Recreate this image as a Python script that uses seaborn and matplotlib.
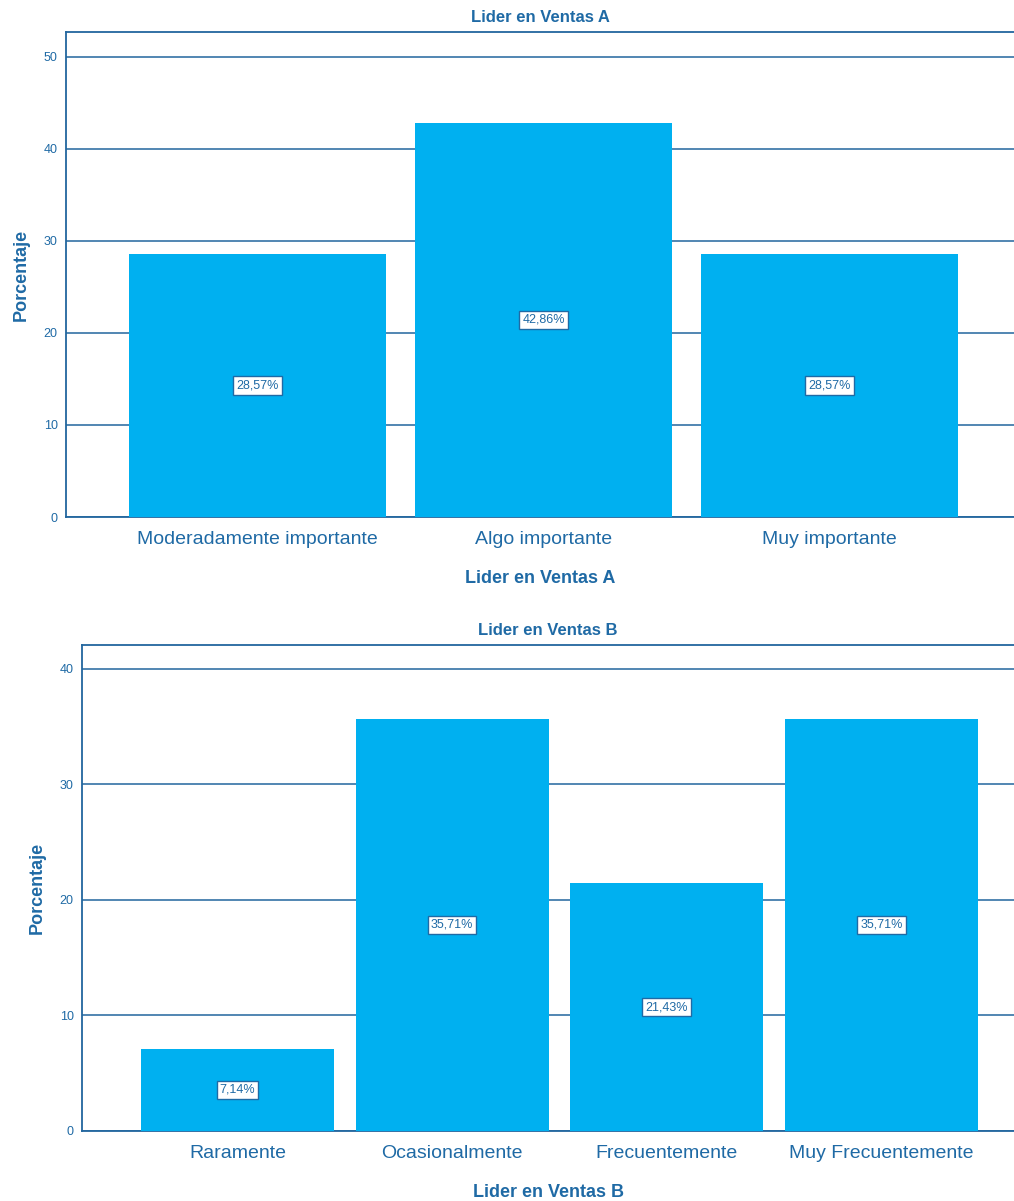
import matplotlib
matplotlib.use('Agg')
import matplotlib.pyplot as plt
import seaborn as sns
import pandas as pd

cats_a = ['Moderadamente importante', 'Algo importante', 'Muy importante']
pct_a = [28.57, 42.86, 28.57]

cats_b = ['Raramente', 'Ocasionalmente', 'Frecuentemente', 'Muy Frecuentemente']
pct_b = [7.14, 35.71, 21.43, 35.71]

bar_color = '#00B0F0'
text_color = '#1F6AA5'
line_color = '#22669E'

sns.set_theme(style='white')
plt.rcParams['font.family'] = ['Liberation Sans Narrow', 'Liberation Sans', 'DejaVu Sans']

fig = plt.figure(figsize=(10.14, 12.01), dpi=100)
ax1 = fig.add_axes([0.0651, 0.5695, 0.9349, 0.4039])
ax2 = fig.add_axes([0.0809, 0.0583, 0.9191, 0.4047])


def draw(ax, cats, vals, title, ymax, xlim):
    df = pd.DataFrame({'cat': cats, 'pct': vals})
    sns.barplot(data=df, x='cat', y='pct', color=bar_color, width=0.9,
                saturation=1, ax=ax, zorder=3)
    for p in ax.patches:
        p.set_edgecolor('none')
    ax.set_ylim(0, ymax)
    ax.set_xlim(*xlim)
    ax.yaxis.grid(True, color=line_color, linewidth=1.1, zorder=1)
    ax.set_axisbelow(True)
    for s in ['left', 'top', 'bottom']:
        ax.spines[s].set_visible(True)
        ax.spines[s].set_color(line_color)
        ax.spines[s].set_linewidth(1.3)
    ax.spines['right'].set_visible(False)
    ax.tick_params(axis='y', labelsize=9, colors=text_color, length=0, pad=6)
    ax.tick_params(axis='x', labelsize=14, colors=text_color, length=0, pad=10)
    ax.set_title(title, fontsize=12, fontweight='bold', color=text_color, pad=7)
    ax.set_xlabel(title, fontsize=13, fontweight='bold', color=text_color, labelpad=16)
    ax.set_ylabel('Porcentaje', fontsize=13, fontweight='bold', color=text_color, labelpad=10)
    for i, v in enumerate(vals):
        ax.text(i, v / 2, f'{v:.2f}%'.replace('.', ','), ha='center', va='center',
                fontsize=9, color=text_color, zorder=5,
                bbox=dict(boxstyle='square,pad=0.25', facecolor='white',
                          edgecolor=text_color, linewidth=1))


draw(ax1, cats_a, pct_a, 'Lider en Ventas A', 52.7, (-0.67, 2.645))
ax1.set_yticks([0, 10, 20, 30, 40, 50])
draw(ax2, cats_b, pct_b, 'Lider en Ventas B', 42.08, (-0.724, 3.617))
ax2.set_yticks([0, 10, 20, 30, 40])

fig.savefig('out.png', dpi=100)
